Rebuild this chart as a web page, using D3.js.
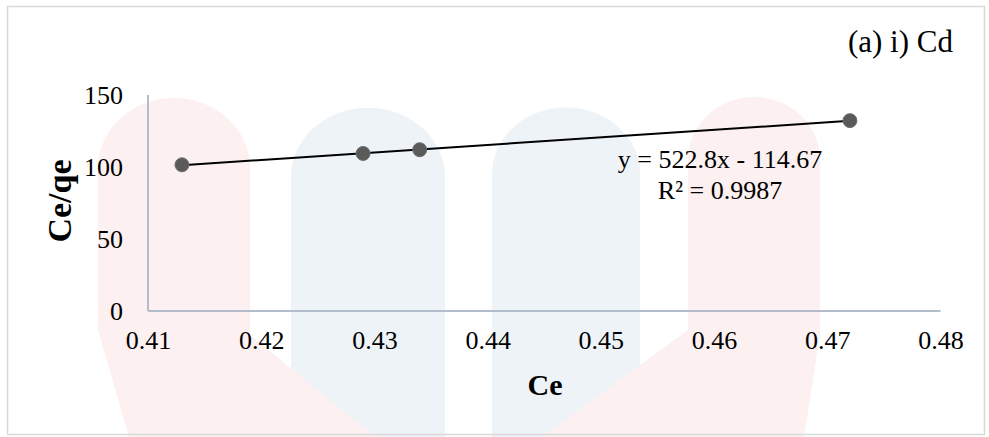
<!DOCTYPE html>
<html>
<head>
<meta charset="utf-8">
<script src="https://cdn.jsdelivr.net/npm/d3@7"></script>
<style>
  html, body { margin: 0; padding: 0; background: #fff; }
  svg { display: block; }
  text { font-family: "Liberation Serif", "Times New Roman", serif; fill: #000; }
</style>
</head>
<body>
<svg id="chart" width="989" height="437"></svg>
<script>
// ---- data ----
const ceValues = [0.413, 0.429, 0.434, 0.472];
const ceQeValues = [101.5, 109.4, 112.0, 132.2];
const xTicks = [0.41, 0.42, 0.43, 0.44, 0.45, 0.46, 0.47, 0.48];
const yTicks = [0, 50, 100, 150];
const trendSlope = 522.8;
const trendIntercept = -114.67;
const equationLines = ["y = 522.8x - 114.67", "R\u00B2 = 0.9987"];
const panelTitle = "(a) i) Cd";
const xTitle = "Ce";
const yTitle = "Ce/qe";

const W = 989, H = 437;
const svg = d3.select("#chart");

// ---- faint background watermark (decorative) ----
const wm = svg.append("g").attr("class", "watermark");
const blue = "#eef3f8", pink = "#fdf0f0";
function pillar(x0, x1, yTop, yBottom) {
  const r = (x1 - x0) / 2;
  return `M${x0},${yBottom} L${x0},${yTop + r} A${r},${r * 0.9} 0 0 1 ${x1},${yTop + r} L${x1},${yBottom} Z`;
}
wm.append("path").attr("d", pillar(291, 445, 100, 437)).attr("fill", blue);
wm.append("path").attr("d", pillar(492, 640, 100, 437)).attr("fill", blue);
// left pink with diagonal foot
wm.append("path").attr("fill", pink)
  .attr("d", `M98,330 L98,168 A76,70 0 0 1 250,168 L250,335 L375,437 L129,437 Z`);
// right pink with diagonal foot
wm.append("path").attr("fill", pink)
  .attr("d", `M688,330 L688,159 A66,62 0 0 1 820,159 L820,335 L804,437 L542,437 Z`);

// outer frame
svg.append("rect").attr("x", 7.5).attr("y", 6.5).attr("width", 977).attr("height", 428)
  .attr("fill", "none").attr("stroke", "#d9d9d9").attr("stroke-width", 1.5);

// ---- scales ----
const x = d3.scaleLinear().domain([0.41, 0.48]).range([148, 940.5]);
const y = d3.scaleLinear().domain([0, 150]).range([311, 95]);

// axes lines
const axisColor = "#b3bccb";
svg.append("line").attr("x1", x(0.41)).attr("x2", x(0.41)).attr("y1", y(150)).attr("y2", y(0))
  .attr("stroke", axisColor).attr("stroke-width", 2);
svg.append("line").attr("x1", x(0.41)).attr("x2", x(0.48)).attr("y1", y(0)).attr("y2", y(0))
  .attr("stroke", axisColor).attr("stroke-width", 2);

// y tick labels
const yAxis = d3.axisLeft(y).tickValues(yTicks).tickSize(0).tickPadding(25).tickFormat(d3.format("d"));
const gy = svg.append("g").attr("transform", `translate(${x(0.41)},0)`).call(yAxis);
gy.select(".domain").remove();
gy.selectAll("text").attr("font-size", 26).attr("font-family", "Liberation Serif").attr("fill", "#000");

// x tick labels
const xAxis = d3.axisBottom(x).tickValues(xTicks).tickSize(0).tickPadding(20).tickFormat(d3.format(".2f"));
const gx = svg.append("g").attr("transform", `translate(0,${y(0)})`).call(xAxis);
gx.select(".domain").remove();
gx.selectAll("text").attr("font-size", 26).attr("font-family", "Liberation Serif").attr("fill", "#000");

// trendline
const xMin = d3.min(ceValues), xMax = d3.max(ceValues);
svg.append("line")
  .attr("x1", x(xMin)).attr("y1", y(trendSlope * xMin + trendIntercept))
  .attr("x2", x(xMax)).attr("y2", y(trendSlope * xMax + trendIntercept))
  .attr("stroke", "#000").attr("stroke-width", 2);

// points
svg.append("g").selectAll("circle").data(ceValues).join("circle")
  .attr("cx", d => x(d)).attr("cy", (d, i) => y(ceQeValues[i])).attr("r", 7)
  .attr("fill", "#5a5a5a").attr("stroke", "#6e6e6e").attr("stroke-width", 1);

// equation labels
svg.append("text").attr("x", 720).attr("y", 168).attr("text-anchor", "middle")
  .attr("font-size", 26).text(equationLines[0]);
svg.append("text").attr("x", 720).attr("y", 199).attr("text-anchor", "middle")
  .attr("font-size", 26).text(equationLines[1]);

// panel title
svg.append("text").attr("x", 953).attr("y", 52).attr("text-anchor", "end")
  .attr("font-size", 31).text(panelTitle);

// axis titles
svg.append("text").attr("x", 545).attr("y", 395).attr("text-anchor", "middle")
  .attr("font-size", 30).attr("font-weight", "bold").text(xTitle);
svg.append("text").attr("transform", "translate(71,201) rotate(-90)").attr("text-anchor", "middle")
  .attr("font-size", 34).attr("font-weight", "bold").text(yTitle);
</script>
</body>
</html>
